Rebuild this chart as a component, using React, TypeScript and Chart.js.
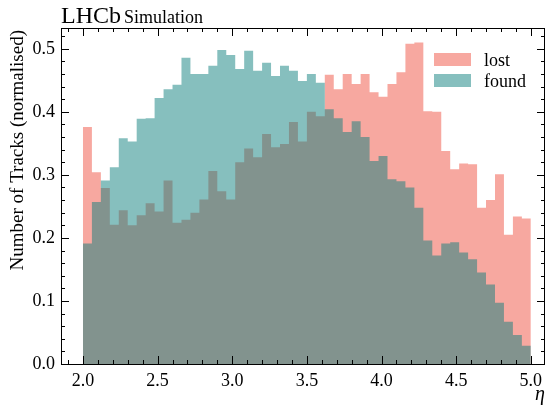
import React, { useEffect, useRef } from 'react';
import { Chart, registerables } from 'chart.js';

Chart.register(...registerables);

// Histogram binning (50 bins of width 0.06 from 2.0 to 5.0)
const BIN_START = 2.0;
const BIN_WIDTH = 0.06;

// Normalised number of tracks per bin
const lost = [
  0.376, 0.304, 0.279, 0.221, 0.244, 0.220, 0.236, 0.255, 0.242, 0.291,
  0.224, 0.229, 0.240, 0.261, 0.306, 0.274, 0.261, 0.320, 0.342, 0.328,
  0.365, 0.344, 0.349, 0.384, 0.353, 0.400, 0.393, 0.459, 0.436, 0.460,
  0.444, 0.460, 0.431, 0.424, 0.444, 0.463, 0.508, 0.510, 0.401, 0.400,
  0.338, 0.309, 0.318, 0.317, 0.248, 0.260, 0.301, 0.205, 0.234, 0.231,
];
const found = [
  0.191, 0.257, 0.291, 0.312, 0.358, 0.353, 0.389, 0.390, 0.422, 0.436,
  0.443, 0.486, 0.460, 0.460, 0.473, 0.498, 0.490, 0.468, 0.497, 0.465,
  0.478, 0.457, 0.473, 0.465, 0.449, 0.460, 0.446, 0.404, 0.390, 0.368,
  0.385, 0.360, 0.322, 0.330, 0.293, 0.290, 0.280, 0.248, 0.196, 0.172,
  0.191, 0.193, 0.177, 0.166, 0.145, 0.126, 0.097, 0.067, 0.046, 0.029,
];

const xTicks = [2.0, 2.5, 3.0, 3.5, 4.0, 4.5, 5.0];
const yTicks = [0.0, 0.1, 0.2, 0.3, 0.4, 0.5];
const xMinorTicks = [1.9, 2.1, 2.2, 2.3, 2.4, 2.6, 2.7, 2.8, 2.9, 3.1, 3.2, 3.3, 3.4, 3.6, 3.7, 3.8, 3.9, 4.1, 4.2, 4.3, 4.4, 4.6, 4.7, 4.8, 4.9];
const yMinorTicks = [0.02, 0.04, 0.06, 0.08, 0.12, 0.14, 0.16, 0.18, 0.22, 0.24, 0.26, 0.28, 0.32, 0.34, 0.36, 0.38, 0.42, 0.44, 0.46, 0.48, 0.52];

const X_MIN = 1.853;
const X_MAX = 5.095;
const Y_MIN = 0;
const Y_MAX = 0.533;

const LOST_FILL = 'rgba(240,82,65,0.5)';
const FOUND_FILL = 'rgba(13,128,126,0.5)';
const FONT = '"Liberation Serif", "Times New Roman", serif';

function toSteps(values: number[]) {
  const pts = values.map((v, i) => ({ x: BIN_START + i * BIN_WIDTH, y: v }));
  pts.push({ x: BIN_START + values.length * BIN_WIDTH, y: values[values.length - 1] });
  return pts;
}

const decorPlugin = {
  id: 'decor',
  afterDraw(chart: any) {
    const ctx: CanvasRenderingContext2D = chart.ctx;
    const { left, right, top, bottom } = chart.chartArea;
    const xs = chart.scales.x;
    const ys = chart.scales.y;
    ctx.save();
    ctx.strokeStyle = '#000';
    ctx.lineWidth = 1;
    // frame
    ctx.strokeRect(Math.round(left) + 0.5, Math.round(top) + 0.5, Math.round(right - left) - 1, Math.round(bottom - top));
    const MAJ = 8;
    const MIN = 4;
    ctx.beginPath();
    const xt = (v: number, len: number) => {
      const px = Math.round(xs.getPixelForValue(v)) + 0.5;
      ctx.moveTo(px, bottom);
      ctx.lineTo(px, bottom - len);
      ctx.moveTo(px, top);
      ctx.lineTo(px, top + len);
    };
    const yt = (v: number, len: number) => {
      const py = Math.round(ys.getPixelForValue(v)) + 0.5;
      ctx.moveTo(left, py);
      ctx.lineTo(left + len, py);
      ctx.moveTo(right, py);
      ctx.lineTo(right - len, py);
    };
    xTicks.forEach((v) => xt(v, MAJ));
    xMinorTicks.forEach((v) => xt(v, MIN));
    yTicks.forEach((v) => yt(v, MAJ));
    yMinorTicks.forEach((v) => yt(v, MIN));
    ctx.stroke();

    ctx.fillStyle = '#000';
    // Title
    ctx.textBaseline = 'alphabetic';
    ctx.textAlign = 'left';
    ctx.font = `24px ${FONT}`;
    ctx.fillText('LHCb', 61, 23);
    const w = ctx.measureText('LHCb').width;
    ctx.font = `18px ${FONT}`;
    ctx.fillText('Simulation', 61 + w + 3, 23);

    // Legend
    const legendItems = [
      { label: 'lost', color: LOST_FILL },
      { label: 'found', color: FOUND_FILL },
    ];
    legendItems.forEach((it, i) => {
      const y0 = 53 + i * 21;
      ctx.fillStyle = it.color;
      ctx.fillRect(434, y0, 37, 13);
      ctx.fillStyle = '#000';
      ctx.font = `18px ${FONT}`;
      ctx.textBaseline = 'alphabetic';
      ctx.fillText(it.label, 484, y0 + 13);
    });

    // Y axis title (aligned to top)
    ctx.save();
    ctx.translate(18, top + 2);
    ctx.rotate(-Math.PI / 2);
    ctx.textAlign = 'right';
    ctx.textBaseline = 'middle';
    ctx.font = `19px ${FONT}`;
    ctx.fillText('Number of Tracks (normalised)', 0, 0);
    ctx.restore();

    // X axis title (aligned to right)
    ctx.textAlign = 'right';
    ctx.textBaseline = 'alphabetic';
    ctx.font = `italic 20px ${FONT}`;
    ctx.fillText('η', right, 400);
    ctx.restore();
  },
};

export default function App() {
  const ref = useRef<HTMLCanvasElement | null>(null);
  useEffect(() => {
    document.body.style.margin = '0';
    const canvas = ref.current;
    if (!canvas) return;
    const chart = new Chart(canvas, {
      type: 'line',
      data: {
        datasets: [
          {
            label: 'lost',
            data: toSteps(lost),
            stepped: 'before',
            fill: 'origin',
            backgroundColor: LOST_FILL,
            borderColor: 'rgba(0,0,0,0)',
            borderWidth: 0,
            pointRadius: 0,
            order: 2,
          },
          {
            label: 'found',
            data: toSteps(found),
            stepped: 'before',
            fill: 'origin',
            backgroundColor: FOUND_FILL,
            borderColor: 'rgba(0,0,0,0)',
            borderWidth: 0,
            pointRadius: 0,
            order: 1,
          },
        ],
      },
      options: {
        responsive: false,
        animation: false,
        devicePixelRatio: 1,
        layout: { padding: { top: 28, right: 7, left: 0, bottom: 0 } },
        plugins: { legend: { display: false }, tooltip: { enabled: false } },
        scales: {
          x: {
            type: 'linear',
            min: X_MIN,
            max: X_MAX,
            afterBuildTicks: (s: any) => {
              s.ticks = xTicks.map((v) => ({ value: v }));
            },
            afterFit: (s: any) => {
              s.height = 45;
            },
            ticks: {
              callback: (v: any) => Number(v).toFixed(1),
              font: { family: FONT, size: 18 },
              color: '#000',
              padding: 6,
              maxRotation: 0,
              autoSkip: false,
            },
            grid: { display: false, drawTicks: false },
            border: { display: false },
          },
          y: {
            type: 'linear',
            min: Y_MIN,
            max: Y_MAX,
            afterBuildTicks: (s: any) => {
              s.ticks = yTicks.map((v) => ({ value: v }));
            },
            afterFit: (s: any) => {
              s.width = 61;
            },
            ticks: {
              callback: (v: any) => Number(v).toFixed(1),
              font: { family: FONT, size: 18 },
              color: '#000',
              padding: 6,
              autoSkip: false,
            },
            grid: { display: false, drawTicks: false },
            border: { display: false },
          },
        },
      },
      plugins: [decorPlugin],
    } as any);
    return () => chart.destroy();
  }, []);
  return (
    <div style={{ width: 552, height: 409 }}>
      <canvas ref={ref} width={552} height={409} style={{ display: 'block' }} />
    </div>
  );
}
